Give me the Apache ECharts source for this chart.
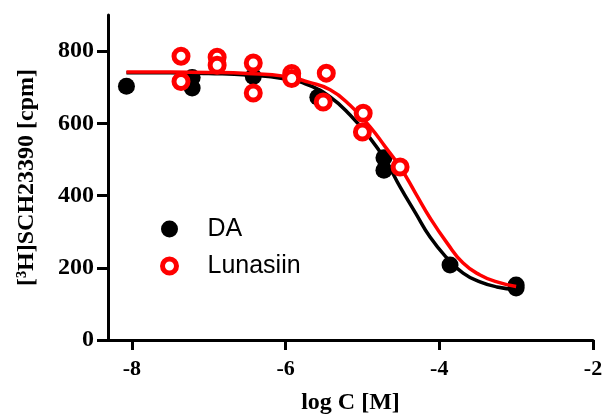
<!DOCTYPE html>
<html>
<head>
<meta charset="utf-8">
<script src="https://cdn.jsdelivr.net/npm/echarts@6/dist/echarts.min.js"></script>
<style>
  html, body { margin: 0; padding: 0; background: #fff; }
  #chart { width: 602px; height: 414px; }
</style>
</head>
<body>
<div id="chart"></div>
<script>
// Binding data: log concentration vs bound [3H]SCH23390 (cpm)
const daLogC = [-8.07, -7.215, -7.215, -6.42, -5.58, -4.72, -4.72, -3.86, -3.0, -3.0];
const daCpm  = [703, 727, 698, 730, 672, 505, 470, 208, 152, 144];

const lunLogC = [-7.36, -7.36, -6.89, -6.89, -6.42, -6.42, -5.92, -5.92, -5.47, -5.51, -4.99, -5.0, -4.51];
const lunCpm  = [786, 716, 783, 761, 767, 684, 738, 724, 739, 659, 628, 576, 479];

// Fitted dose-response curves, sampled along log C
const fitLogC = [-8.07, -7.5, -7.0, -6.5, -6.0, -5.7, -5.42, -5.16, -4.90, -4.70, -4.51, -4.31, -4.12, -3.90, -3.69, -3.47, -3.25, -3.0];
const daFit   = [740, 740, 738, 734, 723, 706, 673, 623, 559, 498, 424, 352, 285, 227, 185, 161, 147, 140];
const lunFit  = [742, 742, 741, 738, 730, 714, 693, 650, 590, 534, 479, 407, 338, 269, 213, 180, 161, 148];

const xTicks = [-8, -6, -4, -2];
const yTicks = [0, 200, 400, 600, 800];

const pairs = (xs, ys) => xs.map((x, i) => [x, ys[i]]);

const serif = 'Liberation Serif';
const chart = echarts.init(document.getElementById('chart'), null, { renderer: 'canvas' });

chart.setOption({
  animation: false,
  backgroundColor: '#ffffff',
  grid: { left: 108, right: 9, top: 15, bottom: 74, containLabel: false, outerBoundsMode: 'none' },
  legend: {
    orient: 'vertical',
    left: 155,
    top: 209,
    itemWidth: 66,
    itemHeight: 14,
    itemGap: 7,
    selectedMode: false,
    textStyle: { fontFamily: 'Liberation Sans', fontSize: 25, color: '#000', lineHeight: 30 },
    data: [
      { name: 'DA', icon: 'circle', itemStyle: { color: '#000', borderColor: '#000', borderWidth: 3 } },
      { name: 'Lunasiin', icon: 'circle', itemStyle: { color: '#fff', borderColor: '#ff0000', borderWidth: 5 } }
    ]
  },
  xAxis: {
    type: 'value',
    min: -8.31,
    max: -2,
    name: 'log C [M]',
    nameLocation: 'middle',
    nameGap: 51,
    nameTextStyle: { fontFamily: serif, fontWeight: 'bold', fontSize: 24, color: '#000' },
    axisLine: { lineStyle: { color: '#000', width: 3 } },
    axisTick: { customValues: xTicks, length: 10, lineStyle: { color: '#000', width: 3 } },
    axisLabel: { customValues: xTicks, margin: 18, fontFamily: serif, fontWeight: 'bold', fontSize: 22, color: '#000' },
    splitLine: { show: false }
  },
  yAxis: {
    type: 'value',
    min: 0,
    max: 900,
    name: '[³H]SCH23390 [cpm]',
    nameLocation: 'middle',
    nameGap: 69,
    nameTextStyle: { fontFamily: serif, fontWeight: 'bold', fontSize: 24, color: '#000' },
    axisLine: { lineStyle: { color: '#000', width: 3 } },
    axisTick: { customValues: yTicks, length: 11, lineStyle: { color: '#000', width: 3 } },
    axisLabel: { customValues: yTicks, margin: 14, fontFamily: serif, fontWeight: 'bold', fontSize: 24, color: '#000' },
    splitLine: { show: false }
  },
  series: [
    {
      name: 'DA fit',
      type: 'line',
      data: pairs(fitLogC, daFit),
      smooth: true,
      showSymbol: false,
      silent: true,
      z: 1,
      lineStyle: { color: '#000', width: 3.5 }
    },
    {
      name: 'DA',
      type: 'scatter',
      data: pairs(daLogC, daCpm),
      symbol: 'circle',
      symbolSize: 17,
      z: 2,
      itemStyle: { color: '#000', opacity: 1 }
    },
    {
      name: 'Lunasiin fit',
      type: 'line',
      data: pairs(fitLogC, lunFit),
      smooth: true,
      showSymbol: false,
      silent: true,
      z: 3,
      lineStyle: { color: '#ff0000', width: 3.5 }
    },
    {
      name: 'Lunasiin',
      type: 'scatter',
      data: pairs(lunLogC, lunCpm),
      symbol: 'circle',
      symbolSize: 14,
      z: 4,
      itemStyle: { color: '#fff', borderColor: '#ff0000', borderWidth: 5, opacity: 1 }
    }
  ]
});
</script>
</body>
</html>
